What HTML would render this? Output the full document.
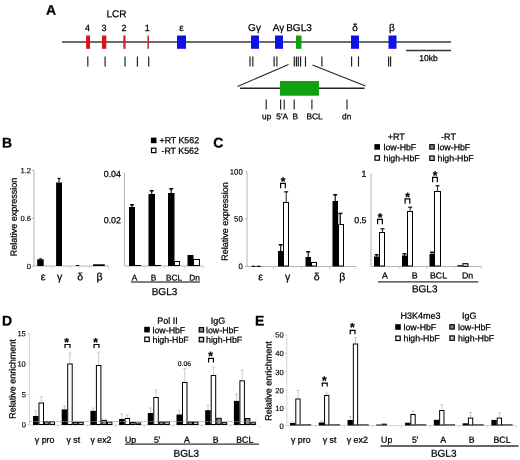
<!DOCTYPE html>
<html><head><meta charset="utf-8"><style>
html,body{margin:0;padding:0;background:#fff;width:520px;height:460px;overflow:hidden}
svg{display:block;will-change:transform;filter:blur(0.35px)}
.n{stroke:#000;stroke-width:0.15px;fill:#000}
text{font-family:"Liberation Sans", sans-serif;fill:#000;stroke:#000;stroke-width:0.25px}
</style></head><body>
<svg width="520" height="460" viewBox="0 0 520 460">
<rect width="520" height="460" fill="#fff"/>
<text x="46.10" y="14.80" font-size="14" font-weight="bold" transform="rotate(0.05 46.10 14.80)">A</text>
<text x="116.40" y="17.30" font-size="10" text-anchor="middle" transform="rotate(0.05 116.40 17.30)">LCR</text>
<text x="87.50" y="31.00" font-size="9" text-anchor="middle" transform="rotate(0.05 87.50 31.00)">4</text>
<text x="104.00" y="31.00" font-size="9" text-anchor="middle" transform="rotate(0.05 104.00 31.00)">3</text>
<text x="124.00" y="31.00" font-size="9" text-anchor="middle" transform="rotate(0.05 124.00 31.00)">2</text>
<text x="147.30" y="31.00" font-size="9" text-anchor="middle" transform="rotate(0.05 147.30 31.00)">1</text>
<text x="181.50" y="31.00" font-size="10" text-anchor="middle" transform="rotate(0.05 181.50 31.00)">ε</text>
<text x="254.50" y="31.00" font-size="10" text-anchor="middle" transform="rotate(0.05 254.50 31.00)">Gγ</text>
<text x="278.50" y="31.00" font-size="10" text-anchor="middle" transform="rotate(0.05 278.50 31.00)">Aγ</text>
<text x="299.00" y="31.00" font-size="10" text-anchor="middle" transform="rotate(0.05 299.00 31.00)">BGL3</text>
<text x="355.00" y="31.00" font-size="10" text-anchor="middle" transform="rotate(0.05 355.00 31.00)">δ</text>
<text x="392.00" y="31.00" font-size="10" text-anchor="middle" transform="rotate(0.05 392.00 31.00)">β</text>
<line x1="62.00" y1="42.00" x2="451.00" y2="42.00" stroke="#3a3a3a" stroke-width="1.4" />
<rect x="86.10" y="35.50" width="4.00" height="13.30" fill="#de1219"/>
<rect x="101.90" y="35.50" width="4.40" height="13.30" fill="#de1219"/>
<rect x="123.30" y="35.50" width="2.30" height="13.30" fill="#d9232a"/>
<rect x="147.40" y="35.50" width="1.60" height="13.30" fill="#c8303a"/>
<rect x="177.00" y="35.50" width="9.00" height="13.30" fill="#1010e8"/>
<rect x="251.00" y="35.50" width="8.00" height="13.30" fill="#1010e8"/>
<rect x="275.00" y="35.50" width="8.00" height="13.30" fill="#1010e8"/>
<rect x="351.00" y="35.50" width="8.00" height="13.30" fill="#1010e8"/>
<rect x="388.50" y="35.50" width="8.00" height="13.30" fill="#1010e8"/>
<rect x="296.00" y="35.50" width="5.50" height="13.30" fill="#10a010"/>
<line x1="87.80" y1="56.50" x2="87.80" y2="66.50" stroke="#1a1a1a" stroke-width="1.15" />
<line x1="105.10" y1="56.50" x2="105.10" y2="66.50" stroke="#1a1a1a" stroke-width="1.15" />
<line x1="125.00" y1="56.50" x2="125.00" y2="66.50" stroke="#1a1a1a" stroke-width="1.15" />
<line x1="137.40" y1="56.50" x2="137.40" y2="66.50" stroke="#1a1a1a" stroke-width="1.15" />
<line x1="148.70" y1="56.50" x2="148.70" y2="66.50" stroke="#1a1a1a" stroke-width="1.15" />
<line x1="250.00" y1="56.50" x2="250.00" y2="66.50" stroke="#1a1a1a" stroke-width="1.15" />
<line x1="252.80" y1="56.50" x2="252.80" y2="66.50" stroke="#1a1a1a" stroke-width="1.15" />
<line x1="274.10" y1="56.50" x2="274.10" y2="66.50" stroke="#1a1a1a" stroke-width="1.15" />
<line x1="276.90" y1="56.50" x2="276.90" y2="66.50" stroke="#1a1a1a" stroke-width="1.15" />
<line x1="294.30" y1="56.50" x2="294.30" y2="66.50" stroke="#1a1a1a" stroke-width="1.15" />
<line x1="296.40" y1="56.50" x2="296.40" y2="66.50" stroke="#1a1a1a" stroke-width="1.15" />
<line x1="298.30" y1="56.50" x2="298.30" y2="66.50" stroke="#1a1a1a" stroke-width="1.15" />
<line x1="300.60" y1="56.50" x2="300.60" y2="66.50" stroke="#1a1a1a" stroke-width="1.15" />
<line x1="305.50" y1="56.50" x2="305.50" y2="66.50" stroke="#1a1a1a" stroke-width="1.15" />
<line x1="321.90" y1="56.50" x2="321.90" y2="66.50" stroke="#1a1a1a" stroke-width="1.15" />
<line x1="351.60" y1="56.50" x2="351.60" y2="66.50" stroke="#1a1a1a" stroke-width="1.15" />
<line x1="358.50" y1="56.50" x2="358.50" y2="66.50" stroke="#1a1a1a" stroke-width="1.15" />
<line x1="388.60" y1="56.50" x2="388.60" y2="66.50" stroke="#1a1a1a" stroke-width="1.15" />
<line x1="390.60" y1="56.50" x2="390.60" y2="66.50" stroke="#1a1a1a" stroke-width="1.15" />
<line x1="406.00" y1="50.50" x2="451.00" y2="50.50" stroke="#333" stroke-width="1.3" />
<text x="428.50" y="61.00" font-size="8.5" text-anchor="middle" transform="rotate(0.05 428.50 61.00)">10kb</text>
<line x1="288.50" y1="64.50" x2="237.50" y2="86.50" stroke="#222" stroke-width="1.1" />
<line x1="312.50" y1="65.00" x2="365.50" y2="86.00" stroke="#222" stroke-width="1.1" />
<line x1="240.00" y1="88.30" x2="364.50" y2="88.30" stroke="#222" stroke-width="1.4" />
<rect x="280.00" y="81.00" width="39.00" height="14.70" fill="#11a011"/>
<line x1="266.20" y1="99.60" x2="266.20" y2="109.60" stroke="#1a1a1a" stroke-width="1.1" />
<line x1="280.60" y1="99.60" x2="280.60" y2="109.60" stroke="#1a1a1a" stroke-width="1.1" />
<line x1="284.20" y1="99.60" x2="284.20" y2="109.60" stroke="#1a1a1a" stroke-width="1.1" />
<line x1="294.20" y1="99.60" x2="294.20" y2="109.60" stroke="#1a1a1a" stroke-width="1.1" />
<line x1="311.90" y1="99.60" x2="311.90" y2="109.60" stroke="#1a1a1a" stroke-width="1.1" />
<line x1="347.00" y1="99.60" x2="347.00" y2="109.60" stroke="#1a1a1a" stroke-width="1.1" />
<text x="266.70" y="119.20" font-size="8.3" text-anchor="middle" transform="rotate(0.05 266.70 119.20)">up</text>
<text x="282.20" y="119.20" font-size="8.3" text-anchor="middle" transform="rotate(0.05 282.20 119.20)">5'A</text>
<text x="295.20" y="119.20" font-size="8.3" text-anchor="middle" transform="rotate(0.05 295.20 119.20)">B</text>
<text x="314.60" y="119.20" font-size="8.3" text-anchor="middle" transform="rotate(0.05 314.60 119.20)">BCL</text>
<text x="346.70" y="119.20" font-size="8.3" text-anchor="middle" transform="rotate(0.05 346.70 119.20)">dn</text>
<text x="2.00" y="147.60" font-size="14" font-weight="bold" transform="rotate(0.05 2.00 147.60)">B</text>
<rect x="150.90" y="137.60" width="5.60" height="5.60" fill="#000"/>
<rect x="151.50" y="148.20" width="4.40" height="4.40" fill="#fff" stroke="#000" stroke-width="1.2"/>
<text x="159.50" y="143.35" font-size="8.8" transform="rotate(0.05 159.50 143.35)">+RT K562</text>
<text x="161.50" y="153.75" font-size="8.8" transform="rotate(0.05 161.50 153.75)">-RT K562</text>
<text x="16.70" y="217.00" font-size="9" text-anchor="middle" transform="rotate(-89.95 16.70 217.00)">Relative expression</text>
<line x1="34.00" y1="170.50" x2="34.00" y2="266.00" stroke="#b4b4b4" stroke-width="1" />
<line x1="34.00" y1="266.00" x2="109.00" y2="266.00" stroke="#b4b4b4" stroke-width="1" />
<line x1="51.50" y1="266.00" x2="51.50" y2="268.50" stroke="#d0d0d0" stroke-width="1" />
<line x1="70.50" y1="266.00" x2="70.50" y2="268.50" stroke="#d0d0d0" stroke-width="1" />
<line x1="89.50" y1="266.00" x2="89.50" y2="268.50" stroke="#d0d0d0" stroke-width="1" />
<line x1="108.40" y1="266.00" x2="108.40" y2="268.50" stroke="#d0d0d0" stroke-width="1" />
<text x="31.00" y="173.22" font-size="7.6" text-anchor="end" transform="rotate(0.05 31.00 173.22)" class="n">1.2</text>
<line x1="32.00" y1="170.50" x2="34.00" y2="170.50" stroke="#b4b4b4" stroke-width="1" />
<text x="31.00" y="220.92" font-size="7.6" text-anchor="end" transform="rotate(0.05 31.00 220.92)" class="n">0.6</text>
<line x1="32.00" y1="218.20" x2="34.00" y2="218.20" stroke="#b4b4b4" stroke-width="1" />
<text x="31.00" y="268.92" font-size="7.6" text-anchor="end" transform="rotate(0.05 31.00 268.92)" class="n">0</text>
<line x1="32.00" y1="266.20" x2="34.00" y2="266.20" stroke="#b4b4b4" stroke-width="1" />
<rect x="37.20" y="259.30" width="6.50" height="6.70" fill="#000"/>
<rect x="39.20" y="258.30" width="2.60" height="1.10" fill="#000"/>
<rect x="56.10" y="182.50" width="5.90" height="83.50" fill="#000"/>
<line x1="59.00" y1="178.50" x2="59.00" y2="182.50" stroke="#000" stroke-width="1" />
<line x1="57.50" y1="178.50" x2="60.50" y2="178.50" stroke="#000" stroke-width="1.2" />
<rect x="76.00" y="265.00" width="3.30" height="1.00" fill="#000"/>
<rect x="93.00" y="264.30" width="11.80" height="1.70" fill="#000"/>
<line x1="124.50" y1="173.00" x2="124.50" y2="266.00" stroke="#b4b4b4" stroke-width="1" />
<line x1="124.50" y1="266.00" x2="203.00" y2="266.00" stroke="#b4b4b4" stroke-width="1" />
<line x1="145.00" y1="266.00" x2="145.00" y2="268.50" stroke="#d0d0d0" stroke-width="1" />
<line x1="164.50" y1="266.00" x2="164.50" y2="268.50" stroke="#d0d0d0" stroke-width="1" />
<line x1="184.50" y1="266.00" x2="184.50" y2="268.50" stroke="#d0d0d0" stroke-width="1" />
<line x1="203.00" y1="266.00" x2="203.00" y2="268.50" stroke="#d0d0d0" stroke-width="1" />
<text x="120.90" y="176.95" font-size="8.8" text-anchor="end" transform="rotate(0.05 120.90 176.95)">0.04</text>
<text x="120.90" y="223.15" font-size="8.8" text-anchor="end" transform="rotate(0.05 120.90 223.15)">0.02</text>
<rect x="129.00" y="207.00" width="6.00" height="59.00" fill="#000"/>
<line x1="132.00" y1="204.50" x2="132.00" y2="207.00" stroke="#000" stroke-width="1.1" />
<line x1="130.00" y1="204.80" x2="134.00" y2="204.80" stroke="#000" stroke-width="1.5" />
<rect x="148.50" y="194.00" width="6.50" height="72.00" fill="#000"/>
<line x1="151.70" y1="190.50" x2="151.70" y2="194.00" stroke="#000" stroke-width="1.1" />
<line x1="149.70" y1="190.80" x2="153.70" y2="190.80" stroke="#000" stroke-width="1.5" />
<rect x="168.00" y="193.00" width="6.50" height="73.00" fill="#000"/>
<line x1="171.20" y1="188.50" x2="171.20" y2="193.00" stroke="#000" stroke-width="1.1" />
<line x1="169.20" y1="188.80" x2="173.20" y2="188.80" stroke="#000" stroke-width="1.5" />
<rect x="135.00" y="265.00" width="6.00" height="1.00" fill="#000"/>
<rect x="155.00" y="265.00" width="6.00" height="1.00" fill="#000"/>
<rect x="174.50" y="261.50" width="5.00" height="4.00" fill="#fff" stroke="#000" stroke-width="1"/>
<rect x="187.50" y="255.00" width="6.00" height="11.00" fill="#000"/>
<rect x="193.50" y="259.50" width="6.00" height="6.00" fill="#fff" stroke="#000" stroke-width="1"/>
<text x="134.50" y="280.47" font-size="8.3" text-anchor="middle" transform="rotate(0.05 134.50 280.47)">A</text>
<text x="153.50" y="280.47" font-size="8.3" text-anchor="middle" transform="rotate(0.05 153.50 280.47)">B</text>
<text x="174.00" y="280.47" font-size="8.3" text-anchor="middle" transform="rotate(0.05 174.00 280.47)">BCL</text>
<text x="194.50" y="280.47" font-size="8.3" text-anchor="middle" transform="rotate(0.05 194.50 280.47)">Dn</text>
<line x1="131.00" y1="282.00" x2="200.00" y2="282.00" stroke="#555" stroke-width="1.4" />
<text x="164.50" y="295.08" font-size="10" text-anchor="middle" transform="rotate(0.05 164.50 295.08)">BGL3</text>
<text x="43.00" y="280.30" font-size="10.5" text-anchor="middle" transform="rotate(0.05 43.00 280.30)">ε</text>
<text x="59.50" y="280.30" font-size="10.5" text-anchor="middle" transform="rotate(0.05 59.50 280.30)">γ</text>
<text x="80.30" y="280.30" font-size="10.5" text-anchor="middle" transform="rotate(0.05 80.30 280.30)">δ</text>
<text x="99.60" y="280.30" font-size="10.5" text-anchor="middle" transform="rotate(0.05 99.60 280.30)">β</text>
<text x="213.20" y="147.50" font-size="14" font-weight="bold" transform="rotate(0.05 213.20 147.50)">C</text>
<text x="227.90" y="221.50" font-size="9" text-anchor="middle" transform="rotate(-89.95 227.90 221.50)">Relative expression</text>
<line x1="247.00" y1="172.00" x2="247.00" y2="266.50" stroke="#b4b4b4" stroke-width="1" />
<line x1="247.00" y1="266.50" x2="356.00" y2="266.50" stroke="#b4b4b4" stroke-width="1" />
<line x1="273.50" y1="266.50" x2="273.50" y2="269.00" stroke="#d0d0d0" stroke-width="1" />
<line x1="301.50" y1="266.50" x2="301.50" y2="269.00" stroke="#d0d0d0" stroke-width="1" />
<line x1="329.50" y1="266.50" x2="329.50" y2="269.00" stroke="#d0d0d0" stroke-width="1" />
<line x1="356.00" y1="266.50" x2="356.00" y2="269.00" stroke="#d0d0d0" stroke-width="1" />
<text x="242.80" y="174.49" font-size="7.8" text-anchor="end" transform="rotate(0.05 242.80 174.49)" class="n">100</text>
<line x1="245.00" y1="171.70" x2="247.00" y2="171.70" stroke="#b4b4b4" stroke-width="1" />
<text x="242.80" y="221.59" font-size="7.8" text-anchor="end" transform="rotate(0.05 242.80 221.59)" class="n">50</text>
<line x1="245.00" y1="218.80" x2="247.00" y2="218.80" stroke="#b4b4b4" stroke-width="1" />
<text x="242.80" y="269.09" font-size="7.8" text-anchor="end" transform="rotate(0.05 242.80 269.09)" class="n">0</text>
<line x1="245.00" y1="266.30" x2="247.00" y2="266.30" stroke="#b4b4b4" stroke-width="1" />
<rect x="251.60" y="265.70" width="3.80" height="1.30" fill="#111"/>
<rect x="256.60" y="265.70" width="4.20" height="1.30" fill="#111"/>
<rect x="278.00" y="251.00" width="5.50" height="15.50" fill="#000"/>
<line x1="280.70" y1="244.50" x2="280.70" y2="251.00" stroke="#000" stroke-width="1.1" />
<line x1="278.70" y1="244.80" x2="282.70" y2="244.80" stroke="#000" stroke-width="1.5" />
<rect x="283.50" y="202.50" width="5.00" height="63.50" fill="#fff" stroke="#000" stroke-width="1"/>
<line x1="286.20" y1="191.50" x2="286.20" y2="203.00" stroke="#333" stroke-width="1.1" />
<line x1="284.20" y1="191.80" x2="288.20" y2="191.80" stroke="#333" stroke-width="1.5" />
<rect x="305.50" y="257.00" width="5.50" height="9.50" fill="#000"/>
<line x1="308.20" y1="251.50" x2="308.20" y2="257.00" stroke="#000" stroke-width="1.1" />
<line x1="306.20" y1="251.80" x2="310.20" y2="251.80" stroke="#000" stroke-width="1.5" />
<rect x="311.50" y="262.50" width="5.00" height="3.50" fill="#fff" stroke="#000" stroke-width="1"/>
<rect x="332.50" y="201.00" width="5.50" height="65.50" fill="#000"/>
<line x1="335.20" y1="194.50" x2="335.20" y2="201.00" stroke="#000" stroke-width="1.1" />
<line x1="333.20" y1="194.80" x2="337.20" y2="194.80" stroke="#000" stroke-width="1.5" />
<rect x="338.50" y="224.50" width="5.00" height="41.50" fill="#fff" stroke="#000" stroke-width="1"/>
<rect x="338.30" y="213.50" width="1.70" height="11.00" fill="#b0b0b0"/>
<line x1="340.40" y1="213.20" x2="340.40" y2="224.50" stroke="#222" stroke-width="1.1" />
<line x1="338.40" y1="213.40" x2="342.40" y2="213.40" stroke="#111" stroke-width="1.5" />
<text x="260.60" y="280.30" font-size="10.5" text-anchor="middle" transform="rotate(0.05 260.60 280.30)">ε</text>
<text x="287.50" y="280.30" font-size="10.5" text-anchor="middle" transform="rotate(0.05 287.50 280.30)">γ</text>
<text x="316.60" y="280.30" font-size="10.5" text-anchor="middle" transform="rotate(0.05 316.60 280.30)">δ</text>
<text x="342.30" y="280.30" font-size="10.5" text-anchor="middle" transform="rotate(0.05 342.30 280.30)">β</text>
<text x="283.00" y="185.40" font-size="12" text-anchor="middle" font-weight="bold" transform="rotate(0.05 283.00 185.40)">*</text>
<polyline points="280.60,188.20 280.60,183.30 285.30,183.30 285.30,188.20" fill="none" stroke="#000" stroke-width="1.2"/>
<line x1="371.00" y1="173.50" x2="371.00" y2="266.50" stroke="#b4b4b4" stroke-width="1" />
<line x1="371.00" y1="266.50" x2="481.70" y2="266.50" stroke="#b4b4b4" stroke-width="1" />
<line x1="399.00" y1="266.50" x2="399.00" y2="269.00" stroke="#d0d0d0" stroke-width="1" />
<line x1="426.50" y1="266.50" x2="426.50" y2="269.00" stroke="#d0d0d0" stroke-width="1" />
<line x1="454.00" y1="266.50" x2="454.00" y2="269.00" stroke="#d0d0d0" stroke-width="1" />
<line x1="481.70" y1="266.50" x2="481.70" y2="269.00" stroke="#d0d0d0" stroke-width="1" />
<text x="366.50" y="176.65" font-size="8.8" text-anchor="end" transform="rotate(0.05 366.50 176.65)">1</text>
<text x="366.50" y="223.15" font-size="8.8" text-anchor="end" transform="rotate(0.05 366.50 223.15)">0.5</text>
<rect x="374.00" y="256.50" width="5.50" height="10.00" fill="#000"/>
<line x1="376.70" y1="254.50" x2="376.70" y2="256.50" stroke="#000" stroke-width="1.1" />
<line x1="374.70" y1="254.80" x2="378.70" y2="254.80" stroke="#000" stroke-width="1.5" />
<rect x="379.50" y="232.50" width="5.00" height="33.50" fill="#fff" stroke="#000" stroke-width="1"/>
<line x1="382.50" y1="228.50" x2="382.50" y2="232.50" stroke="#333" stroke-width="1.1" />
<line x1="380.50" y1="228.80" x2="384.50" y2="228.80" stroke="#333" stroke-width="1.5" />
<rect x="402.00" y="255.50" width="5.00" height="11.00" fill="#000"/>
<line x1="404.50" y1="253.50" x2="404.50" y2="255.50" stroke="#000" stroke-width="1.1" />
<line x1="402.50" y1="253.80" x2="406.50" y2="253.80" stroke="#000" stroke-width="1.5" />
<rect x="407.50" y="211.50" width="5.00" height="54.50" fill="#fff" stroke="#000" stroke-width="1"/>
<line x1="410.20" y1="207.00" x2="410.20" y2="212.00" stroke="#333" stroke-width="1.1" />
<line x1="408.20" y1="207.30" x2="412.20" y2="207.30" stroke="#333" stroke-width="1.5" />
<rect x="429.50" y="254.00" width="5.00" height="12.50" fill="#000"/>
<line x1="432.00" y1="252.00" x2="432.00" y2="254.00" stroke="#000" stroke-width="1.1" />
<line x1="430.00" y1="252.30" x2="434.00" y2="252.30" stroke="#000" stroke-width="1.5" />
<rect x="434.50" y="191.50" width="6.00" height="74.50" fill="#fff" stroke="#000" stroke-width="1"/>
<line x1="437.50" y1="185.50" x2="437.50" y2="191.50" stroke="#333" stroke-width="1.1" />
<line x1="435.50" y1="185.80" x2="439.50" y2="185.80" stroke="#333" stroke-width="1.5" />
<rect x="457.40" y="265.20" width="5.00" height="1.30" fill="#000"/>
<rect x="462.90" y="263.70" width="5.00" height="2.60" fill="#fff" stroke="#000" stroke-width="1.1"/>
<text x="380.00" y="221.40" font-size="12" text-anchor="middle" font-weight="bold" transform="rotate(0.05 380.00 221.40)">*</text>
<polyline points="377.60,224.20 377.60,219.30 382.30,219.30 382.30,224.20" fill="none" stroke="#000" stroke-width="1.2"/>
<text x="407.50" y="200.90" font-size="12" text-anchor="middle" font-weight="bold" transform="rotate(0.05 407.50 200.90)">*</text>
<polyline points="405.10,203.70 405.10,198.80 409.80,198.80 409.80,203.70" fill="none" stroke="#000" stroke-width="1.2"/>
<text x="435.00" y="179.40" font-size="12" text-anchor="middle" font-weight="bold" transform="rotate(0.05 435.00 179.40)">*</text>
<polyline points="432.60,182.20 432.60,177.30 437.30,177.30 437.30,182.20" fill="none" stroke="#000" stroke-width="1.2"/>
<text x="385.00" y="278.55" font-size="8.8" text-anchor="middle" transform="rotate(0.05 385.00 278.55)">A</text>
<text x="414.70" y="278.55" font-size="8.8" text-anchor="middle" transform="rotate(0.05 414.70 278.55)">B</text>
<text x="438.50" y="278.55" font-size="8.8" text-anchor="middle" transform="rotate(0.05 438.50 278.55)">BCL</text>
<text x="467.60" y="278.55" font-size="8.8" text-anchor="middle" transform="rotate(0.05 467.60 278.55)">Dn</text>
<line x1="378.00" y1="281.80" x2="478.30" y2="281.80" stroke="#333" stroke-width="1.3" />
<text x="424.70" y="292.28" font-size="10" text-anchor="middle" transform="rotate(0.05 424.70 292.28)">BGL3</text>
<text x="396.30" y="139.72" font-size="9" text-anchor="middle" transform="rotate(0.05 396.30 139.72)">+RT</text>
<text x="448.50" y="139.72" font-size="9" text-anchor="middle" transform="rotate(0.05 448.50 139.72)">-RT</text>
<rect x="374.40" y="144.10" width="5.60" height="5.60" fill="#000"/>
<rect x="375.00" y="155.80" width="4.40" height="4.40" fill="#fff" stroke="#000" stroke-width="1.2"/>
<rect x="429.80" y="144.70" width="4.40" height="4.40" fill="#888" stroke="#000" stroke-width="1.2"/>
<rect x="429.80" y="156.00" width="4.40" height="4.40" fill="#ccc" stroke="#000" stroke-width="1.2"/>
<text x="383.50" y="150.15" font-size="8.8" transform="rotate(0.05 383.50 150.15)">low-HbF</text>
<text x="383.50" y="161.15" font-size="8.8" transform="rotate(0.05 383.50 161.15)">high-HbF</text>
<text x="437.50" y="150.15" font-size="8.8" transform="rotate(0.05 437.50 150.15)">low-HbF</text>
<text x="437.50" y="161.15" font-size="8.8" transform="rotate(0.05 437.50 161.15)">high-HbF</text>
<text x="2.00" y="325.50" font-size="14" font-weight="bold" transform="rotate(0.05 2.00 325.50)">D</text>
<text x="15.50" y="378.90" font-size="9" text-anchor="middle" transform="rotate(-89.95 15.50 378.90)">Relative enrichment</text>
<line x1="29.50" y1="333.50" x2="29.50" y2="425.00" stroke="#d4d4d4" stroke-width="1" />
<line x1="29.50" y1="425.00" x2="257.00" y2="425.00" stroke="#d4d4d4" stroke-width="1" />
<line x1="58.20" y1="425.00" x2="58.20" y2="427.50" stroke="#d4d4d4" stroke-width="1" />
<line x1="86.90" y1="425.00" x2="86.90" y2="427.50" stroke="#d4d4d4" stroke-width="1" />
<line x1="115.60" y1="425.00" x2="115.60" y2="427.50" stroke="#d4d4d4" stroke-width="1" />
<line x1="144.30" y1="425.00" x2="144.30" y2="427.50" stroke="#d4d4d4" stroke-width="1" />
<line x1="173.00" y1="425.00" x2="173.00" y2="427.50" stroke="#d4d4d4" stroke-width="1" />
<line x1="201.70" y1="425.00" x2="201.70" y2="427.50" stroke="#d4d4d4" stroke-width="1" />
<line x1="230.40" y1="425.00" x2="230.40" y2="427.50" stroke="#d4d4d4" stroke-width="1" />
<line x1="259.10" y1="425.00" x2="259.10" y2="427.50" stroke="#d4d4d4" stroke-width="1" />
<text x="25.80" y="336.19" font-size="7.5" text-anchor="end" transform="rotate(0.05 25.80 336.19)" class="n">15</text>
<line x1="27.50" y1="333.50" x2="29.50" y2="333.50" stroke="#d4d4d4" stroke-width="1" />
<text x="25.80" y="366.49" font-size="7.5" text-anchor="end" transform="rotate(0.05 25.80 366.49)" class="n">10</text>
<line x1="27.50" y1="363.80" x2="29.50" y2="363.80" stroke="#d4d4d4" stroke-width="1" />
<text x="25.80" y="397.19" font-size="7.5" text-anchor="end" transform="rotate(0.05 25.80 397.19)" class="n">5</text>
<line x1="27.50" y1="394.50" x2="29.50" y2="394.50" stroke="#d4d4d4" stroke-width="1" />
<text x="25.80" y="427.19" font-size="7.5" text-anchor="end" transform="rotate(0.05 25.80 427.19)" class="n">0</text>
<line x1="27.50" y1="424.50" x2="29.50" y2="424.50" stroke="#d4d4d4" stroke-width="1" />
<line x1="35.75" y1="411.00" x2="35.75" y2="416.00" stroke="#c4c4c4" stroke-width="0.9" />
<line x1="34.25" y1="411.00" x2="37.25" y2="411.00" stroke="#c4c4c4" stroke-width="0.9" />
<rect x="33.00" y="416.00" width="5.50" height="9.00" fill="#000"/>
<line x1="41.25" y1="396.60" x2="41.25" y2="402.50" stroke="#c4c4c4" stroke-width="0.9" />
<line x1="39.75" y1="396.60" x2="42.75" y2="396.60" stroke="#c4c4c4" stroke-width="0.9" />
<rect x="39.00" y="403.00" width="4.50" height="21.50" fill="#fff" stroke="#000" stroke-width="1"/>
<rect x="44.50" y="421.60" width="4.50" height="2.90" fill="#888" stroke="#000" stroke-width="1"/>
<rect x="50.00" y="421.60" width="4.50" height="2.90" fill="#ccc" stroke="#000" stroke-width="1"/>
<line x1="64.45" y1="405.90" x2="64.45" y2="409.40" stroke="#c4c4c4" stroke-width="0.9" />
<line x1="62.95" y1="405.90" x2="65.95" y2="405.90" stroke="#c4c4c4" stroke-width="0.9" />
<rect x="61.70" y="409.40" width="5.50" height="15.60" fill="#000"/>
<line x1="69.95" y1="353.00" x2="69.95" y2="363.50" stroke="#c4c4c4" stroke-width="0.9" />
<line x1="68.45" y1="353.00" x2="71.45" y2="353.00" stroke="#c4c4c4" stroke-width="0.9" />
<rect x="67.70" y="364.00" width="4.50" height="60.50" fill="#fff" stroke="#000" stroke-width="1"/>
<rect x="73.20" y="422.30" width="4.50" height="2.20" fill="#888" stroke="#000" stroke-width="1"/>
<rect x="78.70" y="422.30" width="4.50" height="2.20" fill="#ccc" stroke="#000" stroke-width="1"/>
<line x1="93.15" y1="408.00" x2="93.15" y2="410.80" stroke="#c4c4c4" stroke-width="0.9" />
<line x1="91.65" y1="408.00" x2="94.65" y2="408.00" stroke="#c4c4c4" stroke-width="0.9" />
<rect x="90.40" y="410.80" width="5.50" height="14.20" fill="#000"/>
<line x1="98.65" y1="352.20" x2="98.65" y2="365.00" stroke="#c4c4c4" stroke-width="0.9" />
<line x1="97.15" y1="352.20" x2="100.15" y2="352.20" stroke="#c4c4c4" stroke-width="0.9" />
<rect x="96.40" y="365.50" width="4.50" height="59.00" fill="#fff" stroke="#000" stroke-width="1"/>
<rect x="101.90" y="420.30" width="4.50" height="4.20" fill="#888" stroke="#000" stroke-width="1"/>
<rect x="107.40" y="422.00" width="4.50" height="2.50" fill="#ccc" stroke="#000" stroke-width="1"/>
<line x1="121.85" y1="414.00" x2="121.85" y2="419.00" stroke="#c4c4c4" stroke-width="0.9" />
<line x1="120.35" y1="414.00" x2="123.35" y2="414.00" stroke="#c4c4c4" stroke-width="0.9" />
<rect x="119.10" y="419.00" width="5.50" height="6.00" fill="#000"/>
<line x1="127.35" y1="415.00" x2="127.35" y2="418.00" stroke="#c4c4c4" stroke-width="0.9" />
<line x1="125.85" y1="415.00" x2="128.85" y2="415.00" stroke="#c4c4c4" stroke-width="0.9" />
<rect x="125.10" y="418.50" width="4.50" height="6.00" fill="#fff" stroke="#000" stroke-width="1"/>
<rect x="130.60" y="422.50" width="4.50" height="2.00" fill="#888" stroke="#000" stroke-width="1"/>
<rect x="136.10" y="423.00" width="4.50" height="1.50" fill="#ccc" stroke="#000" stroke-width="1"/>
<line x1="150.55" y1="408.00" x2="150.55" y2="413.00" stroke="#c4c4c4" stroke-width="0.9" />
<line x1="149.05" y1="408.00" x2="152.05" y2="408.00" stroke="#c4c4c4" stroke-width="0.9" />
<rect x="147.80" y="413.00" width="5.50" height="12.00" fill="#000"/>
<line x1="156.05" y1="390.00" x2="156.05" y2="397.00" stroke="#c4c4c4" stroke-width="0.9" />
<line x1="154.55" y1="390.00" x2="157.55" y2="390.00" stroke="#c4c4c4" stroke-width="0.9" />
<rect x="153.80" y="397.50" width="4.50" height="27.00" fill="#fff" stroke="#000" stroke-width="1"/>
<rect x="159.30" y="422.00" width="4.50" height="2.50" fill="#888" stroke="#000" stroke-width="1"/>
<rect x="164.80" y="422.00" width="4.50" height="2.50" fill="#ccc" stroke="#000" stroke-width="1"/>
<line x1="179.25" y1="410.00" x2="179.25" y2="414.50" stroke="#c4c4c4" stroke-width="0.9" />
<line x1="177.75" y1="410.00" x2="180.75" y2="410.00" stroke="#c4c4c4" stroke-width="0.9" />
<rect x="176.50" y="414.50" width="5.50" height="10.50" fill="#000"/>
<line x1="184.75" y1="368.50" x2="184.75" y2="382.00" stroke="#c4c4c4" stroke-width="0.9" />
<line x1="183.25" y1="368.50" x2="186.25" y2="368.50" stroke="#c4c4c4" stroke-width="0.9" />
<rect x="182.50" y="382.50" width="4.50" height="42.00" fill="#fff" stroke="#000" stroke-width="1"/>
<rect x="188.00" y="422.00" width="4.50" height="2.50" fill="#888" stroke="#000" stroke-width="1"/>
<rect x="193.50" y="422.00" width="4.50" height="2.50" fill="#ccc" stroke="#000" stroke-width="1"/>
<line x1="207.95" y1="405.00" x2="207.95" y2="410.20" stroke="#c4c4c4" stroke-width="0.9" />
<line x1="206.45" y1="405.00" x2="209.45" y2="405.00" stroke="#c4c4c4" stroke-width="0.9" />
<rect x="205.20" y="410.20" width="5.50" height="14.80" fill="#000"/>
<line x1="213.45" y1="367.00" x2="213.45" y2="375.00" stroke="#c4c4c4" stroke-width="0.9" />
<line x1="211.95" y1="367.00" x2="214.95" y2="367.00" stroke="#c4c4c4" stroke-width="0.9" />
<rect x="211.20" y="375.50" width="4.50" height="49.00" fill="#fff" stroke="#000" stroke-width="1"/>
<rect x="216.70" y="418.30" width="4.50" height="6.20" fill="#888" stroke="#000" stroke-width="1"/>
<rect x="222.20" y="422.70" width="4.50" height="1.80" fill="#ccc" stroke="#000" stroke-width="1"/>
<line x1="236.65" y1="394.00" x2="236.65" y2="400.90" stroke="#c4c4c4" stroke-width="0.9" />
<line x1="235.15" y1="394.00" x2="238.15" y2="394.00" stroke="#c4c4c4" stroke-width="0.9" />
<rect x="233.90" y="400.90" width="5.50" height="24.10" fill="#000"/>
<line x1="242.15" y1="370.00" x2="242.15" y2="380.30" stroke="#c4c4c4" stroke-width="0.9" />
<line x1="240.65" y1="370.00" x2="243.65" y2="370.00" stroke="#c4c4c4" stroke-width="0.9" />
<rect x="239.90" y="380.80" width="4.50" height="43.70" fill="#fff" stroke="#000" stroke-width="1"/>
<rect x="245.40" y="418.50" width="4.50" height="6.00" fill="#888" stroke="#000" stroke-width="1"/>
<rect x="250.90" y="422.70" width="4.50" height="1.80" fill="#ccc" stroke="#000" stroke-width="1"/>
<line x1="29.50" y1="421.50" x2="257.00" y2="421.50" stroke="#999" stroke-width="0.8" stroke-dasharray="2,1"/>
<text x="66.50" y="346.20" font-size="12" text-anchor="middle" font-weight="bold" transform="rotate(0.05 66.50 346.20)">*</text>
<polyline points="65.00,348.00 65.00,344.50 70.00,344.50 70.00,348.00" fill="none" stroke="#000" stroke-width="1.2"/>
<text x="95.50" y="346.20" font-size="12" text-anchor="middle" font-weight="bold" transform="rotate(0.05 95.50 346.20)">*</text>
<polyline points="94.00,348.00 94.00,344.50 99.00,344.50 99.00,348.00" fill="none" stroke="#000" stroke-width="1.2"/>
<text x="210.50" y="359.90" font-size="12" text-anchor="middle" font-weight="bold" transform="rotate(0.05 210.50 359.90)">*</text>
<polyline points="208.60,362.40 208.60,358.30 213.40,358.30 213.40,362.40" fill="none" stroke="#000" stroke-width="1.2"/>
<text x="184.40" y="366.03" font-size="6.8" text-anchor="middle" transform="rotate(0.05 184.40 366.03)" class="n">0.06</text>
<text x="44.60" y="442.65" font-size="8.8" text-anchor="middle" transform="rotate(0.05 44.60 442.65)">γ pro</text>
<text x="73.30" y="442.65" font-size="8.8" text-anchor="middle" transform="rotate(0.05 73.30 442.65)">γ st</text>
<text x="101.00" y="442.65" font-size="8.8" text-anchor="middle" transform="rotate(0.05 101.00 442.65)">γ ex2</text>
<text x="130.60" y="442.65" font-size="8.8" text-anchor="middle" transform="rotate(0.05 130.60 442.65)">Up</text>
<text x="157.20" y="442.65" font-size="8.8" text-anchor="middle" transform="rotate(0.05 157.20 442.65)">5'</text>
<text x="186.90" y="442.65" font-size="8.8" text-anchor="middle" transform="rotate(0.05 186.90 442.65)">A</text>
<text x="215.80" y="442.65" font-size="8.8" text-anchor="middle" transform="rotate(0.05 215.80 442.65)">B</text>
<text x="244.80" y="442.65" font-size="8.8" text-anchor="middle" transform="rotate(0.05 244.80 442.65)">BCL</text>
<line x1="125.00" y1="444.20" x2="259.00" y2="444.20" stroke="#333" stroke-width="1.3" />
<text x="186.40" y="456.68" font-size="10" text-anchor="middle" transform="rotate(0.05 186.40 456.68)">BGL3</text>
<text x="167.50" y="323.72" font-size="9" text-anchor="middle" transform="rotate(0.05 167.50 323.72)">Pol II</text>
<text x="218.00" y="323.72" font-size="9" text-anchor="middle" transform="rotate(0.05 218.00 323.72)">IgG</text>
<rect x="144.20" y="326.80" width="5.60" height="5.60" fill="#000"/>
<rect x="144.80" y="337.10" width="4.40" height="4.40" fill="#fff" stroke="#000" stroke-width="1.2"/>
<rect x="199.20" y="327.60" width="4.40" height="4.40" fill="#888" stroke="#000" stroke-width="1.2"/>
<rect x="199.20" y="337.40" width="4.40" height="4.40" fill="#ccc" stroke="#000" stroke-width="1.2"/>
<text x="152.50" y="333.15" font-size="8.8" transform="rotate(0.05 152.50 333.15)">low-HbF</text>
<text x="152.50" y="342.65" font-size="8.8" transform="rotate(0.05 152.50 342.65)">high-HbF</text>
<text x="206.00" y="333.15" font-size="8.8" transform="rotate(0.05 206.00 333.15)">low-HbF</text>
<text x="206.00" y="342.65" font-size="8.8" transform="rotate(0.05 206.00 342.65)">high-HbF</text>
<text x="255.00" y="325.60" font-size="14" font-weight="bold" transform="rotate(0.05 255.00 325.60)">E</text>
<text x="271.50" y="380.90" font-size="9" text-anchor="middle" transform="rotate(-89.95 271.50 380.90)">Relative enrichment</text>
<line x1="286.80" y1="335.00" x2="286.80" y2="425.50" stroke="#d4d4d4" stroke-width="1" />
<line x1="286.80" y1="425.50" x2="516.00" y2="425.50" stroke="#d4d4d4" stroke-width="1" />
<line x1="315.50" y1="425.50" x2="315.50" y2="428.00" stroke="#d4d4d4" stroke-width="1" />
<line x1="344.20" y1="425.50" x2="344.20" y2="428.00" stroke="#d4d4d4" stroke-width="1" />
<line x1="372.90" y1="425.50" x2="372.90" y2="428.00" stroke="#d4d4d4" stroke-width="1" />
<line x1="401.60" y1="425.50" x2="401.60" y2="428.00" stroke="#d4d4d4" stroke-width="1" />
<line x1="430.30" y1="425.50" x2="430.30" y2="428.00" stroke="#d4d4d4" stroke-width="1" />
<line x1="459.00" y1="425.50" x2="459.00" y2="428.00" stroke="#d4d4d4" stroke-width="1" />
<line x1="487.70" y1="425.50" x2="487.70" y2="428.00" stroke="#d4d4d4" stroke-width="1" />
<line x1="516.40" y1="425.50" x2="516.40" y2="428.00" stroke="#d4d4d4" stroke-width="1" />
<text x="283.80" y="337.52" font-size="7.6" text-anchor="end" transform="rotate(0.05 283.80 337.52)" class="n">50</text>
<line x1="285.00" y1="334.80" x2="286.80" y2="334.80" stroke="#d4d4d4" stroke-width="1" />
<text x="283.80" y="356.12" font-size="7.6" text-anchor="end" transform="rotate(0.05 283.80 356.12)" class="n">40</text>
<line x1="285.00" y1="353.40" x2="286.80" y2="353.40" stroke="#d4d4d4" stroke-width="1" />
<text x="283.80" y="374.92" font-size="7.6" text-anchor="end" transform="rotate(0.05 283.80 374.92)" class="n">30</text>
<line x1="285.00" y1="372.20" x2="286.80" y2="372.20" stroke="#d4d4d4" stroke-width="1" />
<text x="283.80" y="393.22" font-size="7.6" text-anchor="end" transform="rotate(0.05 283.80 393.22)" class="n">20</text>
<line x1="285.00" y1="390.50" x2="286.80" y2="390.50" stroke="#d4d4d4" stroke-width="1" />
<text x="283.80" y="411.02" font-size="7.6" text-anchor="end" transform="rotate(0.05 283.80 411.02)" class="n">10</text>
<line x1="285.00" y1="408.30" x2="286.80" y2="408.30" stroke="#d4d4d4" stroke-width="1" />
<text x="283.80" y="428.72" font-size="7.6" text-anchor="end" transform="rotate(0.05 283.80 428.72)" class="n">0</text>
<line x1="285.00" y1="426.00" x2="286.80" y2="426.00" stroke="#d4d4d4" stroke-width="1" />
<line x1="292.65" y1="422.00" x2="292.65" y2="423.00" stroke="#c4c4c4" stroke-width="0.9" />
<line x1="291.15" y1="422.00" x2="294.15" y2="422.00" stroke="#c4c4c4" stroke-width="0.9" />
<rect x="290.00" y="423.00" width="5.30" height="2.50" fill="#000"/>
<line x1="297.95" y1="390.50" x2="297.95" y2="398.50" stroke="#c4c4c4" stroke-width="0.9" />
<line x1="296.45" y1="390.50" x2="299.45" y2="390.50" stroke="#c4c4c4" stroke-width="0.9" />
<rect x="295.80" y="399.00" width="4.30" height="26.00" fill="#fff" stroke="#000" stroke-width="1"/>
<rect x="300.60" y="424.30" width="5.30" height="1.20" fill="#222"/>
<rect x="305.90" y="424.30" width="5.30" height="1.20" fill="#222"/>
<line x1="321.42" y1="421.00" x2="321.42" y2="422.50" stroke="#c4c4c4" stroke-width="0.9" />
<line x1="319.92" y1="421.00" x2="322.92" y2="421.00" stroke="#c4c4c4" stroke-width="0.9" />
<rect x="318.77" y="422.50" width="5.30" height="3.00" fill="#000"/>
<line x1="326.72" y1="393.00" x2="326.72" y2="395.00" stroke="#c4c4c4" stroke-width="0.9" />
<line x1="325.22" y1="393.00" x2="328.22" y2="393.00" stroke="#c4c4c4" stroke-width="0.9" />
<rect x="324.57" y="395.50" width="4.30" height="29.50" fill="#fff" stroke="#000" stroke-width="1"/>
<rect x="329.37" y="424.30" width="5.30" height="1.20" fill="#222"/>
<rect x="334.67" y="424.30" width="5.30" height="1.20" fill="#222"/>
<line x1="350.19" y1="416.50" x2="350.19" y2="420.00" stroke="#c4c4c4" stroke-width="0.9" />
<line x1="348.69" y1="416.50" x2="351.69" y2="416.50" stroke="#c4c4c4" stroke-width="0.9" />
<rect x="347.54" y="420.00" width="5.30" height="5.50" fill="#000"/>
<line x1="355.49" y1="337.50" x2="355.49" y2="343.50" stroke="#c4c4c4" stroke-width="0.9" />
<line x1="353.99" y1="337.50" x2="356.99" y2="337.50" stroke="#c4c4c4" stroke-width="0.9" />
<rect x="353.34" y="344.00" width="4.30" height="81.00" fill="#fff" stroke="#000" stroke-width="1"/>
<rect x="358.14" y="424.30" width="5.30" height="1.20" fill="#222"/>
<rect x="363.44" y="424.30" width="5.30" height="1.20" fill="#222"/>
<rect x="376.31" y="424.50" width="5.30" height="1.00" fill="#000"/>
<rect x="381.61" y="423.60" width="5.30" height="1.90" fill="#222"/>
<rect x="405.08" y="422.70" width="5.30" height="2.80" fill="#000"/>
<line x1="413.03" y1="411.00" x2="413.03" y2="414.00" stroke="#c4c4c4" stroke-width="0.9" />
<line x1="411.53" y1="411.00" x2="414.53" y2="411.00" stroke="#c4c4c4" stroke-width="0.9" />
<rect x="410.88" y="414.50" width="4.30" height="10.50" fill="#fff" stroke="#000" stroke-width="1"/>
<rect x="415.68" y="424.30" width="5.30" height="1.20" fill="#222"/>
<rect x="420.98" y="424.30" width="5.30" height="1.20" fill="#222"/>
<rect x="433.85" y="419.80" width="5.30" height="5.70" fill="#000"/>
<line x1="441.80" y1="404.80" x2="441.80" y2="410.00" stroke="#c4c4c4" stroke-width="0.9" />
<line x1="440.30" y1="404.80" x2="443.30" y2="404.80" stroke="#c4c4c4" stroke-width="0.9" />
<rect x="439.65" y="410.50" width="4.30" height="14.50" fill="#fff" stroke="#000" stroke-width="1"/>
<rect x="444.45" y="424.30" width="5.30" height="1.20" fill="#222"/>
<rect x="449.75" y="424.30" width="5.30" height="1.20" fill="#222"/>
<rect x="462.62" y="423.30" width="5.30" height="2.20" fill="#000"/>
<line x1="470.57" y1="412.50" x2="470.57" y2="417.60" stroke="#c4c4c4" stroke-width="0.9" />
<line x1="469.07" y1="412.50" x2="472.07" y2="412.50" stroke="#c4c4c4" stroke-width="0.9" />
<rect x="468.42" y="418.10" width="4.30" height="6.90" fill="#fff" stroke="#000" stroke-width="1"/>
<rect x="473.22" y="424.30" width="5.30" height="1.20" fill="#222"/>
<rect x="478.52" y="424.30" width="5.30" height="1.20" fill="#222"/>
<rect x="491.39" y="419.90" width="5.30" height="5.60" fill="#000"/>
<line x1="499.34" y1="412.80" x2="499.34" y2="417.60" stroke="#c4c4c4" stroke-width="0.9" />
<line x1="497.84" y1="412.80" x2="500.84" y2="412.80" stroke="#c4c4c4" stroke-width="0.9" />
<rect x="497.19" y="418.10" width="4.30" height="6.90" fill="#fff" stroke="#000" stroke-width="1"/>
<rect x="501.99" y="424.30" width="5.30" height="1.20" fill="#222"/>
<rect x="507.29" y="424.30" width="5.30" height="1.20" fill="#222"/>
<text x="324.30" y="384.80" font-size="12" text-anchor="middle" font-weight="bold" transform="rotate(0.05 324.30 384.80)">*</text>
<polyline points="322.30,386.40 322.30,383.20 327.20,383.20 327.20,386.40" fill="none" stroke="#000" stroke-width="1.2"/>
<text x="352.40" y="331.20" font-size="12" text-anchor="middle" font-weight="bold" transform="rotate(0.05 352.40 331.20)">*</text>
<polyline points="350.20,334.30 350.20,330.40 355.00,330.40 355.00,334.30" fill="none" stroke="#000" stroke-width="1.2"/>
<text x="300.80" y="442.75" font-size="8.8" text-anchor="middle" transform="rotate(0.05 300.80 442.75)">γ pro</text>
<text x="329.50" y="442.75" font-size="8.8" text-anchor="middle" transform="rotate(0.05 329.50 442.75)">γ st</text>
<text x="357.30" y="442.75" font-size="8.8" text-anchor="middle" transform="rotate(0.05 357.30 442.75)">γ ex2</text>
<text x="386.70" y="442.75" font-size="8.8" text-anchor="middle" transform="rotate(0.05 386.70 442.75)">Up</text>
<text x="415.20" y="442.75" font-size="8.8" text-anchor="middle" transform="rotate(0.05 415.20 442.75)">5'</text>
<text x="443.20" y="442.75" font-size="8.8" text-anchor="middle" transform="rotate(0.05 443.20 442.75)">A</text>
<text x="471.70" y="442.75" font-size="8.8" text-anchor="middle" transform="rotate(0.05 471.70 442.75)">B</text>
<text x="502.00" y="442.75" font-size="8.8" text-anchor="middle" transform="rotate(0.05 502.00 442.75)">BCL</text>
<line x1="380.40" y1="446.00" x2="518.50" y2="446.00" stroke="#333" stroke-width="1.3" />
<text x="443.70" y="456.68" font-size="10" text-anchor="middle" transform="rotate(0.05 443.70 456.68)">BGL3</text>
<text x="420.50" y="318.72" font-size="9" text-anchor="middle" transform="rotate(0.05 420.50 318.72)">H3K4me3</text>
<text x="469.30" y="318.72" font-size="9" text-anchor="middle" transform="rotate(0.05 469.30 318.72)">IgG</text>
<rect x="395.20" y="324.20" width="5.60" height="5.60" fill="#000"/>
<rect x="395.80" y="336.10" width="4.40" height="4.40" fill="#fff" stroke="#000" stroke-width="1.2"/>
<rect x="449.90" y="324.70" width="4.40" height="4.40" fill="#888" stroke="#000" stroke-width="1.2"/>
<rect x="449.90" y="335.90" width="4.40" height="4.40" fill="#ccc" stroke="#000" stroke-width="1.2"/>
<text x="403.50" y="330.15" font-size="8.8" transform="rotate(0.05 403.50 330.15)">low-HbF</text>
<text x="403.50" y="341.15" font-size="8.8" transform="rotate(0.05 403.50 341.15)">high-HbF</text>
<text x="458.00" y="330.15" font-size="8.8" transform="rotate(0.05 458.00 330.15)">low-HbF</text>
<text x="458.00" y="341.15" font-size="8.8" transform="rotate(0.05 458.00 341.15)">high-HbF</text>
</svg>
</body></html>
